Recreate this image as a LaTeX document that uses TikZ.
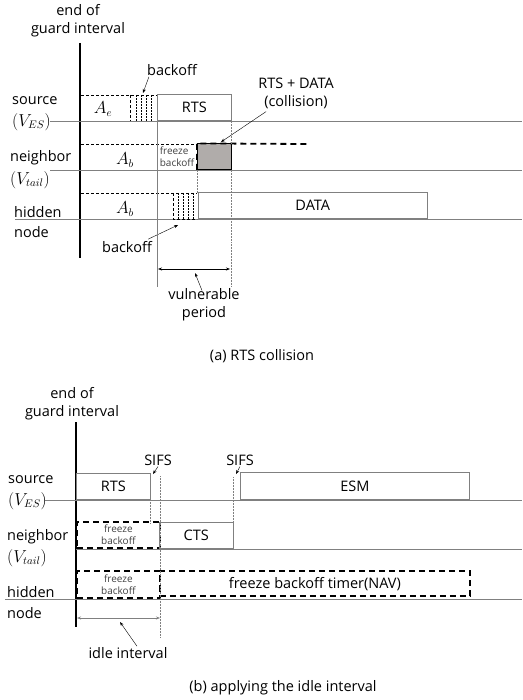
\documentclass[tikz,border=0pt]{standalone}
\usepackage{fontspec}
\setmainfont{Open Sans}
\usetikzlibrary{positioning, arrows.meta, calc}
\definecolor{edgegray}{RGB}{128,128,128}
\definecolor{collfill}{RGB}{176,172,170}

\begin{document}
\begin{tikzpicture}[x=1pt, y=-1pt, font=\fontsize{14.5}{18}\selectfont,
    txt/.style={inner sep=0pt, align=center},
    lft/.style={inner sep=0pt, anchor=west},
    mth/.style={font=\fontsize{16}{18}\selectfont},
    small/.style={inner sep=0pt, align=center, text=black!75, font=\fontsize{10}{12}\selectfont},
    tline/.style={draw=edgegray, line width=0.6pt},
    frame/.style={draw=edgegray, line width=0.6pt, inner sep=0pt, anchor=south west, minimum height=26pt},
    frz/.style={draw=black, dash pattern=on 6pt off 4pt, line width=1.8pt, inner sep=0pt, align=center, anchor=south west, minimum height=26pt},
    gline/.style={line width=1.8pt},
    dashline/.style={dash pattern=on 3pt off 2pt, line width=0.5pt},
    dotline/.style={densely dotted, draw=edgegray, line width=0.5pt},
    ptr/.style={-{Stealth[length=4pt, width=3pt]}, line width=0.4pt},
    dimarrow/.style={{Stealth[length=4pt, width=3pt]}-{Stealth[length=4pt, width=3pt]}, line width=0.7pt},
]
\useasboundingbox (0,0) rectangle (522,700);

% ---------- (a) RTS collision ----------
\node[txt] (giA) at (78,21) {end of\\guard interval};
\draw[gline] (80,43) -- (80,258);

\node[lft] (srcA) at (12,101) {source};
\node[lft, mth] (srcAv) at (12,122) {$(V_{ES})$};
\node[lft] (nbrA) at (10,158) {neighbor};
\node[lft, mth] (nbrAv) at (10,180) {$(V_{tail})$};
\node[lft] (hidA) at (14,212) {hidden};
\node[lft] (hidAn) at (14,232) {node};

\draw[tline] (50,121) -- (522,121);
\draw[tline] (50,170) -- (522,170);
\draw[tline] (15,219) -- (522,219);

% source row
\draw[dashline] (81,95) -- (157,95);
\draw[dashline] (130,95) -- (130,121);
\foreach \x in {136,141,146,151}
  \draw[densely dotted, line width=0.5pt] (\x,95) -- (\x,121);
\node[mth] (aeA) at (103,109) {$A_e$};
\node[frame, minimum width=74pt] (rtsA) at (157,121) {RTS};
\node[txt] (boA) at (172,70) {backoff};
\coordinate (boAtip) at (143,93);
\draw[ptr] ($(boA.south west)+(2,1)$) -- (boAtip);

% neighbor row
\draw[dashline] (81,144) -- (197,144);
\draw[dashline] (157,144) -- (157,170);
\node[mth] (abA1) at (125,160) {$A_b$};
\node[small, align=left] (fzA) at (177,157) {freeze\\backoff};
\node[frame, draw=black, fill=collfill, minimum width=34pt] (collA) at (197,170) {};
\draw[dash pattern=on 6pt off 4pt, line width=1.8pt] (collA.south west) -- (collA.north west) -- (307,144);
\node[txt] (colA) at (296,93) {RTS + DATA\\(collision)};
\coordinate (colAtip) at (221,142);
\draw[ptr] ($(colA.south west)+(8,3)$) -- (colAtip);

% hidden node row
\draw[dashline] (81,193) -- (197,193);
\draw[dashline] (173,193) -- (173,219) -- (197,219);
\foreach \x in {178,183,188,193}
  \draw[densely dotted, line width=0.5pt] (\x,193) -- (\x,219);
\node[mth] (abA2) at (125,209) {$A_b$};
\node[frame, minimum width=229pt] (dataA) at (198,219) {DATA};
\node[txt] (boA2) at (127,247) {backoff};
\coordinate (boA2tip) at (178,225);
\draw[ptr] ($(boA2.north east)+(-4,-2)$) -- (boA2tip);

% timing marks
\draw[tline, line width=0.5pt] (157,95) -- (157,287);
\draw[dotline] (197,170) -- (197,193);
\draw[dotline] (231,121) -- (231,144);
\draw[dotline] (231,170) -- (231,287);
\coordinate (vpL) at (158,269);
\coordinate (vpR) at (230,269);
\draw[dimarrow] (vpL) -- (vpR);
\node[txt] (vpA) at (204,305) {vulnerable\\period};
\coordinate (vpAtip) at (195,273);
\draw[ptr] ($(vpA.north)+(-2,2)$) -- (vpAtip);

\node[txt] (capA) at (262,356) {(a) RTS collision};

% ---------- (b) applying the idle interval ----------
\node[txt] (giB) at (72,404) {end of\\guard interval};
\draw[gline] (76,422) -- (76,627);

\node[lft] (srcB) at (8,480) {source};
\node[lft, mth] (srcBv) at (8,501) {$(V_{ES})$};
\node[lft] (nbrB) at (7,537) {neighbor};
\node[lft, mth] (nbrBv) at (7,558) {$(V_{tail})$};
\node[lft] (hidB) at (7,592) {hidden};
\node[lft] (hidBn) at (7,613) {node};

\draw[tline] (45,500) -- (522,500);
\draw[tline] (76,549) -- (522,549);
\draw[tline] (5,599) -- (522,599);

% source row
\node[frame, minimum width=74pt] (rtsB) at (76,500) {RTS};
\node[frame, minimum width=229pt, minimum height=27pt] (esmB) at (240,500) {ESM};
\node[txt] (sifsB1) at (158,460) {SIFS};
\node[txt] (sifsB2) at (240,460) {SIFS};
\coordinate (sifsB1tip) at (153,474);
\coordinate (sifsB2tip) at (236,474);
\draw[ptr] ($(sifsB1.south)+(0,1)$) -- (sifsB1tip);
\draw[ptr] ($(sifsB2.south)+(0,1)$) -- (sifsB2tip);

% neighbor row
\node[frz, minimum width=83pt, font=\fontsize{10}{12}\selectfont, text=black!75] (fzB1) at (76,549) {freeze\\backoff};
\node[frame, minimum width=74pt] (ctsB) at (159,549) {CTS};

% hidden node row
\node[frz, minimum width=83pt, minimum height=27pt, font=\fontsize{10}{12}\selectfont, text=black!75] (fzB2) at (76,599) {freeze\\backoff};
\node[frz, minimum width=310pt, minimum height=25pt] (navB) at (159,597) {freeze backoff timer(NAV)};

% timing marks
\draw[dotline] (150,500) -- (150,523);
\draw[dotline] (160,476) -- (160,638);
\draw[dotline] (233,477) -- (233,523);
\coordinate (idL) at (77,618);
\coordinate (idR) at (160,618);
\draw[dimarrow, draw=edgegray] (idL) -- (idR);
\node[txt] (idB) at (128,653) {idle interval};
\coordinate (idBtip) at (120,622);
\draw[ptr] ($(idB.north)+(9,-1)$) -- (idBtip);

\node[txt] (capB) at (283,688) {(b) applying the idle interval};
\end{tikzpicture}
\end{document}
